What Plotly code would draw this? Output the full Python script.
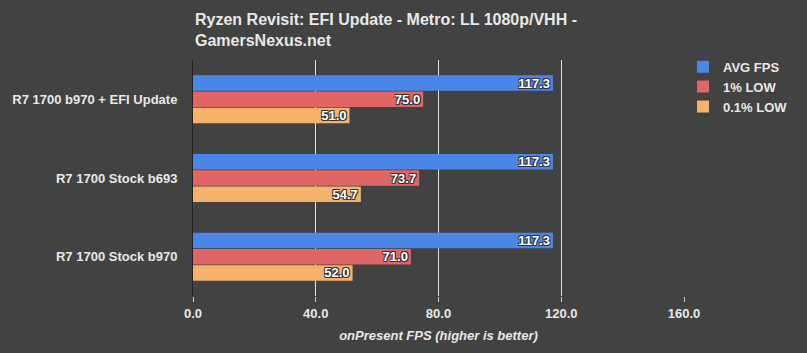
import plotly.graph_objects as go

categories = ["R7 1700 b970 + EFI Update", "R7 1700 Stock b693", "R7 1700 Stock b970"]
avg_fps = [117.3, 117.3, 117.3]
low_1 = [75.0, 73.7, 71.0]
low_01 = [51.0, 54.7, 52.0]
series = [("AVG FPS", avg_fps, "#4a86e8"), ("1% LOW", low_1, "#e06666"), ("0.1% LOW", low_01, "#f6b26b")]
x_ticks = [0, 40, 80, 120, 160]
title_text = "Ryzen Revisit: EFI Update - Metro: LL 1080p/VHH -<br>GamersNexus.net"

FONT = "Liberation Sans"
shadow = "-1px -1px 0 #333, 1px -1px 0 #333, -1px 1px 0 #333, 1px 1px 0 #333"

fig = go.Figure()
for name, vals, col in series:
    fig.add_trace(go.Bar(
        y=categories, x=vals, name=name, orientation="h",
        marker=dict(color=col, line=dict(width=0)),
        text=[f"{v:.1f}" for v in vals], textposition="inside",
        insidetextanchor="end", constraintext="none",
        textfont=dict(color="white", size=13, family=FONT, weight="bold", shadow=shadow),
    ))

fig.add_annotation(text=f"<b>{title_text}</b>", xref="paper", yref="paper", x=0, y=1,
                   xanchor="left", yanchor="bottom", yshift=9, showarrow=False, align="left",
                   font=dict(size=16, color="#e8e8e8", family=FONT))

fig.update_layout(
    width=807, height=353,
    paper_bgcolor="#424242", plot_bgcolor="#424242",
    margin=dict(l=193, r=123, t=60, b=51),
    barmode="group", bargap=0.38, bargroupgap=0.05,
    font=dict(family=FONT, color="#e8e8e8"),
    legend=dict(x=0.998, y=1.035, xanchor="left", yanchor="top",
                font=dict(size=13, color="#e8e8e8", family=FONT, weight="bold"),
                bgcolor="rgba(0,0,0,0)"),
    showlegend=True,
)
fig.update_xaxes(range=[0, 160], tickvals=x_ticks, ticktext=[f"{v:.1f}" for v in x_ticks],
                 showgrid=True, gridcolor="#e0e0e0", gridwidth=1, zeroline=False,
                 ticks="outside", tickcolor="#cccccc", ticklen=5,
                 tickfont=dict(size=13, color="#e8e8e8", family=FONT, weight="bold"),
                 title=dict(text="<b><i>onPresent FPS (higher is better)</i></b>",
                            font=dict(size=13, color="#e8e8e8", family=FONT), standoff=11))
fig.update_yaxes(autorange="reversed", showgrid=False, showline=True, linecolor="#222222", linewidth=1,
                 ticks="", ticklabelstandoff=12,
                 tickfont=dict(size=13, color="#e8e8e8", family=FONT, weight="bold"))

fig.write_html("out.html")
